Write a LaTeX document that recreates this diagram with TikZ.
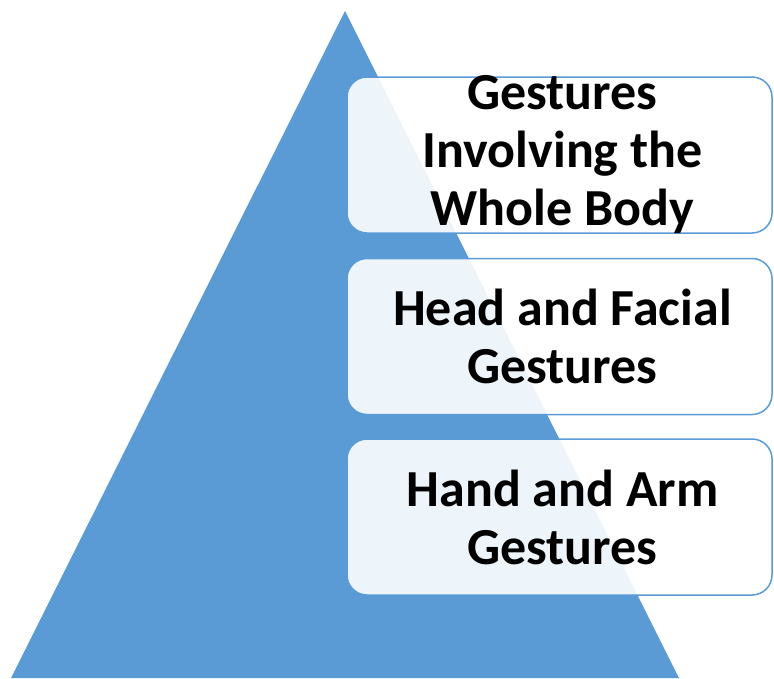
\documentclass[tikz,border=0pt]{standalone}
\usepackage{fontspec}
\setmainfont{Carlito}
\usetikzlibrary{positioning}

\definecolor{pyrblue}{HTML}{5B9BD5}

\begin{document}
\begin{tikzpicture}[
    x=1pt, y=-1pt,
    every node/.style={font=\fontsize{52}{58}\selectfont\bfseries},
    level/.style={rectangle, draw=pyrblue, line width=1.5pt, fill=white, fill opacity=0.9, text opacity=1, minimum width=425pt, minimum height=156pt, align=center, rounded corners=20pt, inner xsep=0pt, inner ysep=-12pt},
    pyramid/.style={fill=pyrblue}
]
\useasboundingbox (0,0) rectangle (774,678);

% Pyramid
\fill[pyramid] (345,11) -- (679,678) -- (11,678) -- cycle;

% Levels
\node[level] (top) at (559.5,155) {\hspace*{6pt}Gestures\\\hspace*{6pt}Involving the\\\hspace*{6pt}Whole Body};
\node[level, below=24pt of top] (mid) {\hspace*{6pt}Head and Facial\\\hspace*{6pt}Gestures};
\node[level, below=23pt of mid] (low) {\hspace*{6pt}Hand and Arm\\\hspace*{6pt}Gestures};

\end{tikzpicture}
\end{document}
